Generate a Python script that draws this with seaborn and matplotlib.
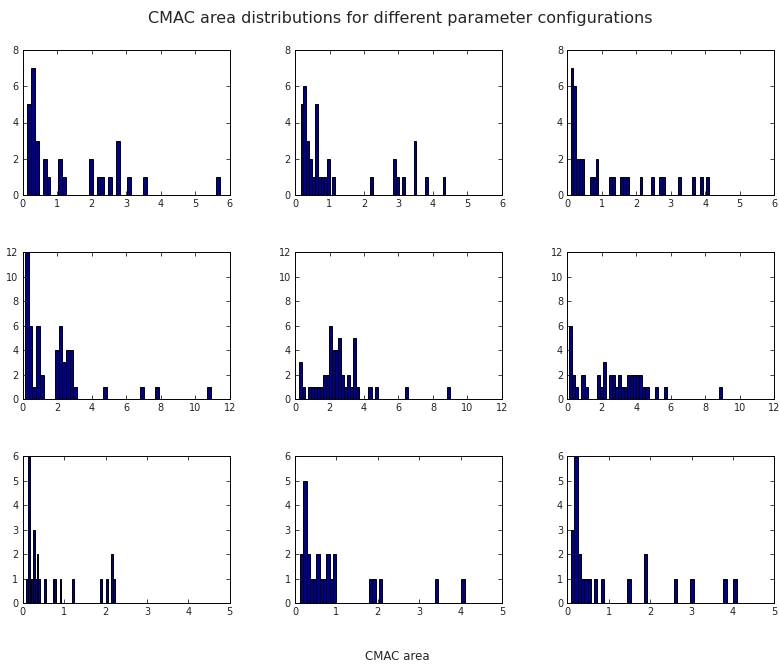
import numpy as np
import pandas as pd
import matplotlib
matplotlib.use("Agg")
import matplotlib.pyplot as plt
import seaborn as sns

# ---- data: 50-bin histograms (bin range, occupied bin indices, counts) ----
p1_range = (0.135, 5.71)
p1_bins = [0, 1, 2, 4, 5, 8, 9, 16, 18, 19, 21, 23, 26, 30, 49]
p1_counts = [5, 7, 3, 2, 1, 2, 1, 2, 1, 1, 1, 3, 1, 1, 1]

p2_range = (0.16, 4.36)
p2_bins = [0, 1, 2, 3, 4, 5, 6, 7, 8, 9, 11, 24, 32, 33, 35, 39, 43, 49]
p2_counts = [5, 6, 3, 2, 1, 5, 1, 1, 1, 2, 1, 1, 2, 1, 1, 3, 1, 1]

p3_range = (0.097, 4.10)
p3_bins = [0, 1, 2, 3, 4, 7, 8, 9, 14, 15, 18, 19, 20, 25, 29, 32, 33, 39, 44, 47, 49]
p3_counts = [7, 6, 2, 2, 2, 1, 1, 2, 1, 1, 1, 1, 1, 1, 1, 1, 1, 1, 1, 1, 1]

p4_range = (0.135, 10.92)
p4_bins = [0, 1, 2, 3, 4, 8, 9, 10, 11, 12, 13, 21, 31, 35, 49]
p4_counts = [12, 6, 1, 6, 2, 4, 6, 3, 4, 4, 1, 1, 1, 1, 1]

p5_range = (0.232, 8.99)
p5_bins = [0, 1, 3, 4, 5, 6, 7, 8, 9, 10, 11, 12, 13, 14, 15, 16, 17, 18, 19, 23, 25, 35, 49]
p5_counts = [3, 1, 1, 1, 1, 1, 1, 2, 2, 6, 4, 4, 5, 2, 1, 2, 1, 5, 1, 1, 1, 1, 1]

p6_range = (0.116, 8.947)
p6_bins = [0, 1, 2, 4, 5, 9, 10, 11, 13, 14, 15, 16, 17, 18, 19, 20, 21, 22, 23, 24, 25, 28, 31, 49]
p6_counts = [6, 2, 1, 2, 1, 2, 1, 3, 2, 2, 1, 2, 1, 1, 2, 2, 2, 2, 2, 1, 1, 1, 1, 1]

p7_range = (0.08, 2.22)
p7_bins = [0, 1, 2, 3, 4, 5, 6, 7, 10, 15, 16, 19, 26, 42, 45, 48, 49]
p7_counts = [1, 6, 1, 1, 3, 1, 2, 1, 1, 1, 1, 1, 1, 1, 1, 2, 1]

p8_range = (0.12, 4.10)
p8_bins = [0, 1, 2, 3, 4, 5, 6, 7, 8, 9, 10, 21, 22, 24, 41, 49]
p8_counts = [2, 5, 2, 1, 1, 2, 1, 1, 2, 1, 2, 1, 1, 1, 1, 1]

p9_range = (0.089, 4.09)
p9_bins = [0, 1, 2, 3, 4, 5, 7, 9, 17, 22, 31, 36, 46, 49]
p9_counts = [3, 6, 2, 1, 1, 1, 1, 1, 1, 2, 1, 1, 1, 1]

panels = [
    (p1_range, p1_bins, p1_counts), (p2_range, p2_bins, p2_counts), (p3_range, p3_bins, p3_counts),
    (p4_range, p4_bins, p4_counts), (p5_range, p5_bins, p5_counts), (p6_range, p6_bins, p6_counts),
    (p7_range, p7_bins, p7_counts), (p8_range, p8_bins, p8_counts), (p9_range, p9_bins, p9_counts),
]

row_xlim = [6, 12, 5]
row_xticks = [np.arange(0, 7, 1), np.arange(0, 13, 2), np.arange(0, 6, 1)]
row_ylim = [8, 12, 6]
row_yticks = [np.arange(0, 9, 2), np.arange(0, 13, 2), np.arange(0, 7, 1)]

title_text = "CMAC area distributions for different parameter configurations"
xlabel_text = "CMAC area"

N_BINS = 50
BAR_COLOR = "#00008F"

sns.set_style("ticks")
plt.rcParams["font.family"] = ["DejaVu Sans"]

W, H = 779, 668
fig = plt.figure(figsize=(W / 100, H / 100), dpi=100)

col_left = [22.7, 295.0, 567.3]
row_top = [50.0, 252.3, 456.0]
row_bot = [195.0, 399.0, 603.3]
ax_w = 207.0

for i, (rng, bins_idx, counts) in enumerate(panels):
    r, c = divmod(i, 3)
    left = col_left[c] / W
    bottom = 1 - row_bot[r] / H
    height = (row_bot[r] - row_top[r]) / H
    ax = fig.add_axes([left, bottom, ax_w / W, height])

    lo, hi = rng
    width = (hi - lo) / N_BINS
    centers = lo + (np.asarray(bins_idx) + 0.5) * width
    df = pd.DataFrame({"area": centers, "n": np.asarray(counts, dtype=float)})
    sns.histplot(data=df, x="area", weights="n", bins=N_BINS, binrange=(lo, hi), ax=ax,
                 color=BAR_COLOR, edgecolor="black", linewidth=0.7, alpha=1.0)

    ax.set_xlim(0, row_xlim[r])
    ax.set_ylim(0, row_ylim[r])
    ax.set_xticks(row_xticks[r])
    ax.set_yticks(row_yticks[r])
    ax.set_xlabel("")
    ax.set_ylabel("")
    ax.tick_params(direction="in", length=3, width=0.6, labelsize=7,
                   top=True, right=True, labelcolor="#222222", pad=3)
    for s in ax.spines.values():
        s.set_visible(True)
        s.set_linewidth(0.7)
        s.set_color("black")

fig.text(400 / W, 1 - 18 / H, title_text, ha="center", va="center", fontsize=11.5)
fig.text(397 / W, 1 - 657 / H, xlabel_text, ha="center", va="center", fontsize=8.5)

fig.savefig("out.png", dpi=100, facecolor="white")
